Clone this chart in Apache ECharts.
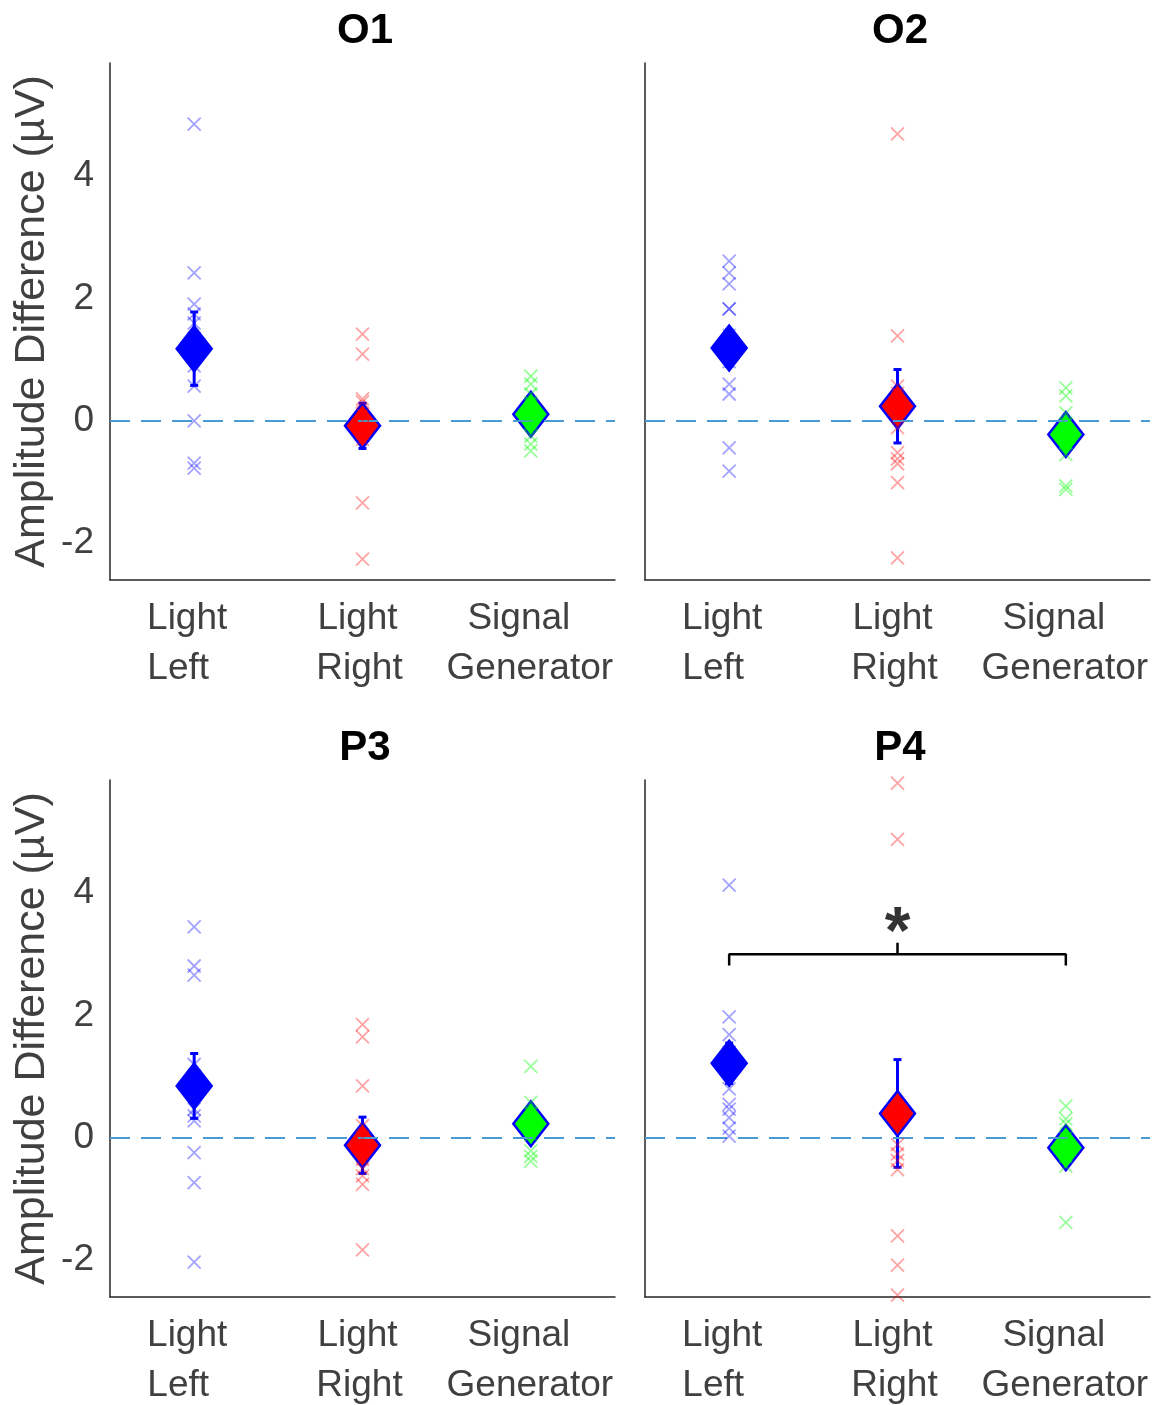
<!DOCTYPE html>
<html>
<head>
<meta charset="utf-8">
<script src="https://cdn.jsdelivr.net/npm/echarts@6/dist/echarts.min.js"></script>
<style>
  html, body { margin: 0; padding: 0; background: #fff; }
  #chart { width: 1155px; height: 1405px; }
</style>
</head>
<body>
<div id="chart"></div>
<script>
// categories & panel names
var groups = ['Light\nLeft', 'Light\nRight', 'Signal\nGenerator'];
var panelNames = ['O1', 'O2', 'P3', 'P4'];

// O1 individual values
var o1Left  = [4.85, 2.42, 1.91, 1.75, 1.6, 1.35, 1.05, 0.9, 0.57, 0.0, -0.69, -0.77];
var o1Right = [1.42, 1.09, 0.36, 0.31, 0.1, 0.0, -0.1, -0.2, -0.3, -1.34, -2.26];
var o1Sig   = [0.73, 0.6, 0.44, 0.3, 0.2, 0.1, 0.0, -0.05, -0.25, -0.38, -0.49];
var o1Mean  = [1.18, -0.08, 0.11];
var o1Sem   = [0.6, 0.37, 0.12];

// O2
var o2Left  = [2.61, 2.42, 2.24, 1.83, 1.83, 1.4, 1.2, 0.97, 0.6, 0.44, -0.44, -0.82];
var o2Right = [4.69, 1.39, 0.57, 0.45, 0.3, -0.11, -0.52, -0.62, -0.7, -1.01, -2.24];
var o2Sig   = [0.54, 0.41, 0.13, -0.05, -0.15, -0.25, -0.35, -0.55, -1.06, -1.12];
var o2Mean  = [1.19, 0.24, -0.22];
var o2Sem   = [0.3, 0.6, 0.15];

// P3
var p3Left  = [3.45, 2.81, 2.66, 1.2, 1.0, 0.7, 0.47, 0.36, 0.28, -0.24, -0.73, -2.03];
var p3Right = [1.85, 1.65, 0.85, 0.2, 0.0, -0.2, -0.35, -0.5, -0.62, -0.76, -1.83];
var p3Sig   = [1.17, 0.58, 0.4, 0.3, 0.15, 0.05, -0.21, -0.3, -0.38];
var p3Mean  = [0.85, -0.12, 0.23];
var p3Sem   = [0.53, 0.46, 0.14];

// P4
var p4Left  = [4.13, 1.98, 1.69, 1.4, 1.1, 0.8, 0.55, 0.47, 0.33, 0.16, 0.03];
var p4Right = [5.8, 4.88, 0.5, 0.3, -0.11, -0.26, -0.37, -0.52, -1.6, -2.08, -2.57];
var p4Sig   = [0.52, 0.31, 0.23, 0.0, -0.1, -0.2, -0.3, -0.46, -1.38];
var p4Mean  = [1.22, 0.4, -0.16];
var p4Sem   = [0.33, 0.88, 0.15];

// significance bracket in P4 (Light Left vs Signal Generator)
var bracketY = 3.0;
var bracketFoot = 2.82;
var bracketTip = 3.19;
var starY = 3.5;

var yMin = -2.6, yMax = 5.85;

var panels = [
  { pts: [o1Left, o1Right, o1Sig], mean: o1Mean, sem: o1Sem },
  { pts: [o2Left, o2Right, o2Sig], mean: o2Mean, sem: o2Sem },
  { pts: [p3Left, p3Right, p3Sig], mean: p3Mean, sem: p3Sem },
  { pts: [p4Left, p4Right, p4Sig], mean: p4Mean, sem: p4Sem }
];

var crossColors = ['rgba(0,0,255,0.45)', 'rgba(255,0,0,0.45)', 'rgba(0,255,0,0.5)'];
var fillColors = ['#0000ff', '#ff0000', '#00ff00'];
var font = 'Liberation Sans, Arial, Helvetica, sans-serif';
var crossPath = 'path://M0,0L10,10M10,0L0,10';
var tickFs = 37;

// small horizontal nudges of each tick-label line (px, negative = left)
var labelShift = [[-7, -16], [-5, -3], [-12, -1]];

function pad(s) {
  return s < 0 ? [0, -2 * s, 0, 0] : [0, 0, 0, 2 * s];
}
var rich = {};
labelShift.forEach(function (sh, k) {
  rich['a' + k] = { padding: pad(sh[0]), fontSize: tickFs, fontFamily: font, color: '#404040', lineHeight: 50 };
  rich['b' + k] = { padding: pad(sh[1]), fontSize: tickFs, fontFamily: font, color: '#404040', lineHeight: 50 };
});

var gridPos = [
  { left: 110, top: 63 }, { left: 645, top: 63 },
  { left: 110, top: 780 }, { left: 645, top: 780 }
];

var chart = echarts.init(document.getElementById('chart'), null, { renderer: 'canvas' });

var grid = [], xAxis = [], yAxis = [], series = [], title = [];

gridPos.forEach(function (g, i) {
  grid.push({ left: g.left, top: g.top, width: 505, height: 517,
              containLabel: false, outerBoundsMode: 'none' });
  title.push({
    text: panelNames[i],
    left: g.left + 250,
    top: g.top - 58,
    textAlign: 'center',
    textStyle: { fontFamily: font, fontWeight: 'bold', fontSize: 42, color: '#000' }
  });
  xAxis.push({
    type: 'category', gridIndex: i, data: groups, boundaryGap: true,
    axisLine: { show: true, onZero: false, lineStyle: { color: '#262626', width: 1.5 } },
    axisTick: { show: false },
    axisLabel: {
      interval: 0, margin: 14, lineHeight: 50, fontSize: tickFs, fontFamily: font, color: '#404040',
      formatter: function (v, idx) {
        var parts = v.split('\n');
        return '{a' + idx + '|' + parts[0] + '}\n{b' + idx + '|' + parts[1] + '}';
      },
      rich: rich
    },
    splitLine: { show: false }
  });
  var left = (i % 2 === 0);
  yAxis.push({
    type: 'value', gridIndex: i, min: yMin, max: yMax, splitNumber: 4,
    name: left ? 'Amplitude Difference (µV)' : '',
    nameLocation: 'middle', nameGap: 56,
    nameTextStyle: { color: '#404040', fontFamily: font, fontSize: 43 },
    axisLine: { show: true, lineStyle: { color: '#262626', width: 1.5 } },
    axisTick: { show: false },
    axisLabel: { show: left, color: '#404040', fontFamily: font, fontSize: tickFs, margin: 16,
                 showMinLabel: false, showMaxLabel: false },
    splitLine: { show: false }
  });

  var p = panels[i];
  // zero reference line
  series.push({
    type: 'line', xAxisIndex: i, yAxisIndex: i, data: [], silent: true,
    markLine: {
      silent: true, symbol: 'none', label: { show: false },
      lineStyle: { color: '#4a9bd3', type: [20, 11], width: 2 },
      data: [{ yAxis: 0 }]
    }
  });
  // error bars
  series.push({
    type: 'custom', xAxisIndex: i, yAxisIndex: i, z: 3,
    data: p.mean.map(function (m, k) { return [k, m - p.sem[k], m + p.sem[k]]; }),
    encode: { x: 0, y: [1, 2] },
    renderItem: function (params, api) {
      var lo = api.coord([api.value(0), api.value(1)]);
      var hi = api.coord([api.value(0), api.value(2)]);
      var x = hi[0], c = 4;
      var st = { stroke: '#0000ff', lineWidth: 3 };
      return { type: 'group', children: [
        { type: 'line', shape: { x1: x, y1: lo[1], x2: x, y2: hi[1] }, style: st },
        { type: 'line', shape: { x1: x - c, y1: hi[1], x2: x + c, y2: hi[1] }, style: st },
        { type: 'line', shape: { x1: x - c, y1: lo[1], x2: x + c, y2: lo[1] }, style: st }
      ] };
    }
  });
  // mean diamonds
  series.push({
    type: 'scatter', xAxisIndex: i, yAxisIndex: i, z: 4,
    symbol: 'diamond', symbolSize: [35, 45],
    data: p.mean.map(function (m, k) {
      return { value: [k, m], itemStyle: { color: fillColors[k] } };
    }),
    itemStyle: { borderColor: '#0000ff', borderWidth: 2.5, opacity: 1 }
  });
  // individual crosses
  p.pts.forEach(function (vals, k) {
    series.push({
      type: 'scatter', xAxisIndex: i, yAxisIndex: i, z: 5,
      symbol: crossPath, symbolSize: 13,
      data: vals.map(function (v) { return [k, v]; }),
      itemStyle: { color: 'none', borderColor: crossColors[k], borderWidth: 1.8 }
    });
  });
});

// bracket + asterisk in P4
series.push({
  type: 'line', xAxisIndex: 3, yAxisIndex: 3, z: 6, symbol: 'none',
  lineStyle: { color: '#000', width: 2.5 },
  data: [[0, bracketFoot], [0, bracketY], [2, bracketY], [2, bracketFoot]]
});
series.push({
  type: 'line', xAxisIndex: 3, yAxisIndex: 3, z: 6, symbol: 'none',
  lineStyle: { color: '#000', width: 2.5 },
  data: [[1, bracketY], [1, bracketTip]]
});
series.push({
  type: 'scatter', xAxisIndex: 3, yAxisIndex: 3, z: 6, symbolSize: 1,
  itemStyle: { color: 'rgba(0,0,0,0)' },
  data: [[1, starY]],
  label: { show: true, position: 'inside', formatter: '*', color: '#000',
           fontFamily: font, fontWeight: 'bold', fontSize: 66, offset: [0, 11] }
});

chart.setOption({
  backgroundColor: '#fff',
  animation: false,
  title: title,
  grid: grid,
  xAxis: xAxis,
  yAxis: yAxis,
  series: series
});
</script>
</body>
</html>
